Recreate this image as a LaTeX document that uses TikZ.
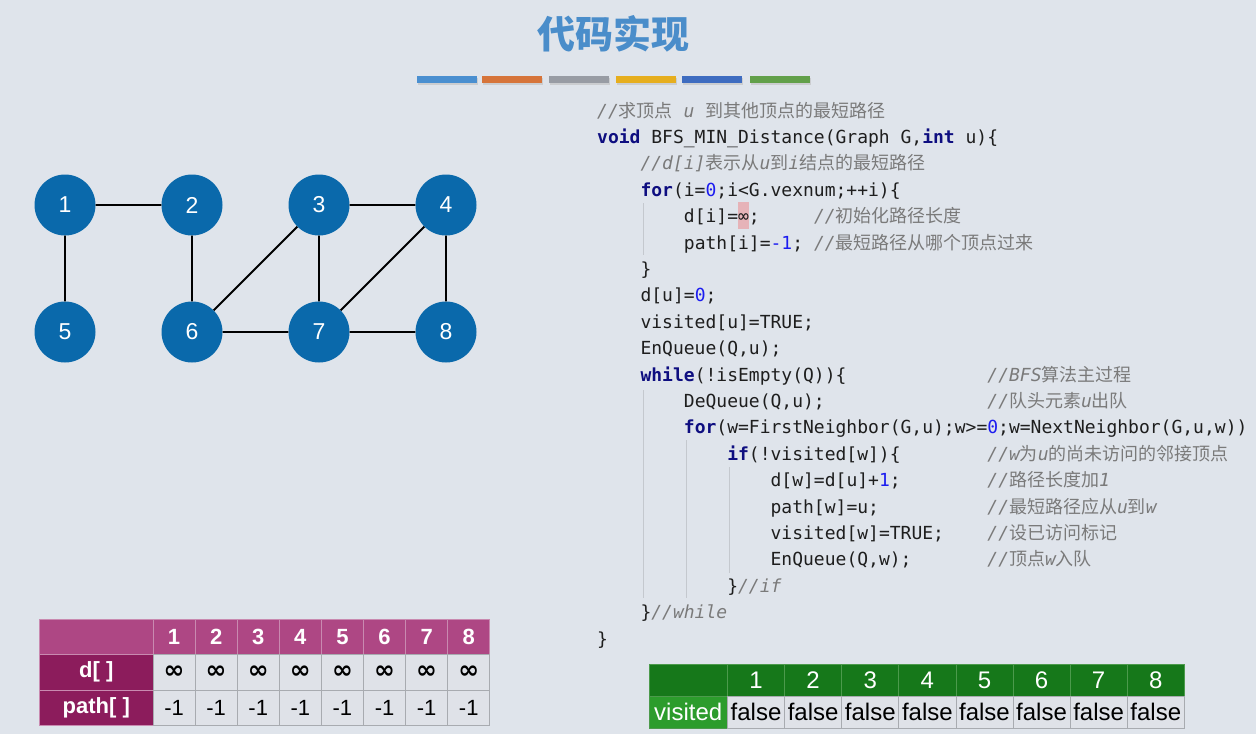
\documentclass[tikz,border=0pt]{standalone}
\usepackage{fontspec}
\setmainfont{Liberation Sans}
\newfontfamily\codef{DejaVu Sans Mono}
\newfontfamily\cjk{Noto Sans CJK SC}
\newfontfamily\symf{DejaVu Sans}
\definecolor{bg}{HTML}{DFE4EB}
\definecolor{titleblue}{HTML}{4A8DCA}
\definecolor{vblue}{HTML}{0A69AB}
\definecolor{kwc}{HTML}{0E0E80}
\definecolor{nmc}{HTML}{1C1CF0}
\definecolor{cmc}{HTML}{7A7A7A}
\definecolor{codec}{HTML}{1E1E1E}
\definecolor{guide}{HTML}{C4C8CE}
\definecolor{hipink}{HTML}{E6B3B8}
\definecolor{pinkhdr}{HTML}{AE4784}
\definecolor{pinkside}{HTML}{8C1C5C}
\definecolor{pinkline}{HTML}{C98AB0}
\definecolor{cellbg}{HTML}{DFE2E8}
\definecolor{cellline}{HTML}{A8ABB0}
\definecolor{greenhdr}{HTML}{16781A}
\definecolor{greenside}{HTML}{2C9C2C}
\definecolor{greenline}{HTML}{4C9A4C}
\definecolor{barA}{HTML}{4A8FD0}
\definecolor{barB}{HTML}{D6743A}
\definecolor{barC}{HTML}{989CA4}
\definecolor{barD}{HTML}{E6AE1E}
\definecolor{barE}{HTML}{3E6CC0}
\definecolor{barF}{HTML}{62A04A}
\newcommand\kwd[1]{{\bfseries\color{kwc}#1}}
\newcommand\nmb[1]{{\color{nmc}#1}}
\newcommand\zh[1]{{\cjk\upshape #1}}
\newcommand\cmnt[1]{{\color{cmc}\itshape #1}}
\def\colw{10.84}
\newcommand\codeat[4]{\node[codeln] (#1) at ({597+#2*\colw},{117+#3*26.4}) {#4};}
\tikzset{
  vtx/.style={circle, fill=vblue, minimum size=61, inner sep=0, text=white, font=\fontsize{23}{23}\selectfont},
  edge/.style={line width=1.8, black},
  codeln/.style={anchor=base west, inner sep=0, text=codec, font=\codef\fontsize{18}{18}\selectfont},
  guideln/.style={guide, line width=0.8},
  bar/.style={inner sep=0, minimum width=60, minimum height=7},
  tcell/.style={inner sep=0, minimum width=42.1, minimum height=35.5, fill=cellbg, draw=cellline, line width=0.8, font=\fontsize{22}{22}\selectfont},
  thdr/.style={inner sep=0, minimum width=42.1, minimum height=35.5, fill=pinkhdr, draw=pinkline, line width=0.8, text=white, font=\bfseries\fontsize{22}{22}\selectfont},
  tside/.style={inner sep=0, minimum width=113.5, minimum height=35.5, fill=pinkside, draw=pinkline, line width=0.8, text=white, font=\bfseries\fontsize{22}{22}\selectfont},
  gcell/.style={inner sep=0, minimum width=57.1, minimum height=32, fill=cellbg, draw=cellline, line width=0.8, font=\fontsize{24}{24}\selectfont},
  ghdr/.style={inner sep=0, minimum width=57.1, minimum height=32, fill=greenhdr, draw=greenline, line width=0.8, text=white, font=\fontsize{24}{24}\selectfont},
  gside/.style={inner sep=0, minimum width=78.5, minimum height=32, fill=greenside, draw=greenline, line width=0.8, text=white, font=\fontsize{24}{24}\selectfont},
}
\begin{document}
\begin{tikzpicture}[x=1pt,y=-1pt]
\fill[bg] (0,0) rectangle (1256,734);
\useasboundingbox (0,0) rectangle (1256,734);
% title
\node[font=\cjk\bfseries\fontsize{38}{38}\selectfont, text=titleblue] (title) at (613,34) {代码实现};
% bars
\foreach \c/\x [count=\i] in {barA/447,barB/512,barC/579,barD/646,barE/712,barF/780}{
  \fill[black!25, opacity=0.6] (\x-30+1,76+2) rectangle (\x+30+1,83+2);
  \node[bar, fill=\c] (bar\i) at (\x,79) {};
}
% graph
\foreach \n/\x/\y in {1/65/205,2/192/205,3/319/205,4/446/205,5/65/332,6/192/332,7/319/332,8/446/332}
  \node[vtx] (v\n) at (\x,\y) {\n};
\draw[edge] (v1)--(v2) (v1)--(v5) (v2)--(v6) (v3)--(v4) (v3)--(v6) (v3)--(v7) (v4)--(v7) (v4)--(v8) (v6)--(v7) (v7)--(v8);
% code guides
\coordinate (g1a) at (643,203); \coordinate (g1b) at (643,255);
\coordinate (g2a) at (643,390); \coordinate (g2b) at (643,598);
\coordinate (g3a) at (686,440); \coordinate (g3b) at (686,598);
\coordinate (g4a) at (729,467); \coordinate (g4b) at (729,573);
\draw[guideln] (g1a)--(g1b) (g2a)--(g2b) (g3a)--(g3b) (g4a)--(g4b);
% infinity highlight
\fill[hipink] ({597+13*\colw},202) rectangle ({597+14*\colw},229);
% code
\codeat{c0}{0}{0}{\cmnt{//\zh{求顶点} u \zh{到其他顶点的最短路径}}}
\codeat{c1}{0}{1}{\kwd{void} BFS\_MIN\_Distance(Graph G,\kwd{int} u)\{}
\codeat{c2}{4}{2}{\cmnt{//d[i]\zh{表示从}u\zh{到}i\zh{结点的最短路径}}}
\codeat{c3}{4}{3}{\kwd{for}(i=\nmb{0};i<G.vexnum;++i)\{}
\codeat{c4}{8}{4}{d[i]=∞;}
\codeat{m4}{20}{4}{\cmnt{//\zh{初始化路径长度}}}
\codeat{c5}{8}{5}{path[i]=\nmb{-1};}
\codeat{m5}{20}{5}{\cmnt{//\zh{最短路径从哪个顶点过来}}}
\codeat{c6}{4}{6}{\}}
\codeat{c7}{4}{7}{d[u]=\nmb{0};}
\codeat{c8}{4}{8}{visited[u]=TRUE;}
\codeat{c9}{4}{9}{EnQueue(Q,u);}
\codeat{c10}{4}{10}{\kwd{while}(!isEmpty(Q))\{}
\codeat{m10}{36}{10}{\cmnt{//BFS\zh{算法主过程}}}
\codeat{c11}{8}{11}{DeQueue(Q,u);}
\codeat{m11}{36}{11}{\cmnt{//\zh{队头元素}u\zh{出队}}}
\codeat{c12}{8}{12}{\kwd{for}(w=FirstNeighbor(G,u);w>=\nmb{0};w=NextNeighbor(G,u,w))}
\codeat{c13}{12}{13}{\kwd{if}(!visited[w])\{}
\codeat{m13}{36}{13}{\cmnt{//w\zh{为}u\zh{的尚未访问的邻接顶点}}}
\codeat{c14}{16}{14}{d[w]=d[u]+\nmb{1};}
\codeat{m14}{36}{14}{\cmnt{//\zh{路径长度加}1}}
\codeat{c15}{16}{15}{path[w]=u;}
\codeat{m15}{36}{15}{\cmnt{//\zh{最短路径应从}u\zh{到}w}}
\codeat{c16}{16}{16}{visited[w]=TRUE;}
\codeat{m16}{36}{16}{\cmnt{//\zh{设已访问标记}}}
\codeat{c17}{16}{17}{EnQueue(Q,w);}
\codeat{m17}{36}{17}{\cmnt{//\zh{顶点}w\zh{入队}}}
\codeat{c18}{12}{18}{\}\cmnt{//if}}
\codeat{c19}{4}{19}{\}\cmnt{//while}}
\codeat{c20}{0}{20}{\}}
% table 1
\node[tside, fill=pinkhdr] (t1h0) at (96.25,636.75) {};
\node[tside] (t1d) at (96.25,672.25) {d[ ]};
\node[tside] (t1p) at (96.25,707.75) {path[ ]};
\foreach \i in {1,...,8}{
  \node[thdr] (t1h\i) at ({153+42.1*(\i-0.5)},636.75) {\i};
  \node[tcell, font=\symf\bfseries\fontsize{25}{25}\selectfont] (t1d\i) at ({153+42.1*(\i-0.5)},672.25) {∞};
  \node[tcell] (t1p\i) at ({153+42.1*(\i-0.5)},707.75) {-1};
}
% table 2
\node[gside, fill=greenhdr] (t2h0) at (688.25,680) {};
\node[gside] (t2v) at (688.25,712) {visited};
\foreach \i in {1,...,8}{
  \node[ghdr] (t2h\i) at ({727.5+57.1*(\i-0.5)},680) {\i};
  \node[gcell] (t2v\i) at ({727.5+57.1*(\i-0.5)},712) {false};
}
\end{tikzpicture}
\end{document}
